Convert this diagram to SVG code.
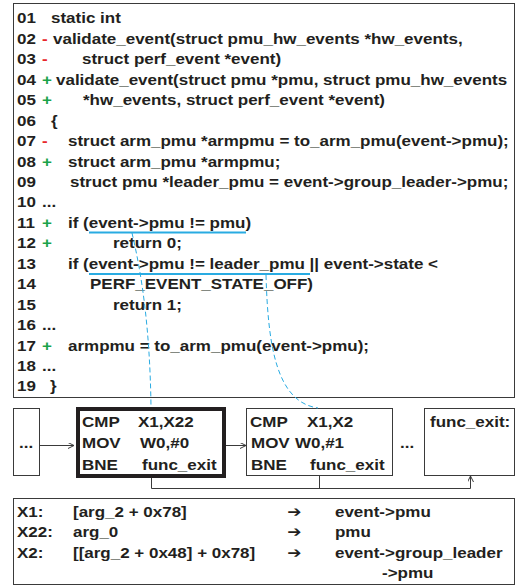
<svg xmlns="http://www.w3.org/2000/svg" width="516" height="585" viewBox="0 0 516 585">
<defs>
<style>
.t{font-family:"Liberation Sans",Arial,sans-serif;font-weight:bold;font-size:15px;fill:#231f20}
.r{fill:#e8262a}
.g{fill:#1aa34a}
.ar{font-family:"DejaVu Sans",sans-serif;font-weight:bold;font-size:15px}
.box{fill:#fff;stroke:#3a3a3a;stroke-width:1}
.thick{fill:#fff;stroke:#231f20;stroke-width:4}
.hl{stroke:#29abe2;stroke-width:2;fill:none}
.dash{stroke:#29abe2;stroke-width:1;fill:none;stroke-dasharray:5 3}
.conn{stroke:#3a3a3a;stroke-width:1;fill:none}
</style>
<marker id="ah" markerWidth="8" markerHeight="8" refX="6" refY="3" orient="auto" markerUnits="userSpaceOnUse">
<path d="M0,0 L6,3 L0,6" fill="none" stroke="#3a3a3a" stroke-width="1"/>
</marker>
</defs>
<rect width="516" height="585" fill="#fff"/>

<g id="code">
<rect class="box" x="13.5" y="3.5" width="501" height="394"/>
<g transform="scale(1.1333 1)" class="t">
<text y="23.4"><tspan x="15">01</tspan><tspan x="45">static int</tspan></text>
<text y="43.85"><tspan x="15">02</tspan><tspan x="37.06" class="r">-</tspan><tspan x="46.76">validate_event(struct pmu_hw_events *hw_events,</tspan></text>
<text y="64.3"><tspan x="15">03</tspan><tspan x="37.06" class="r">-</tspan><tspan x="72.35">struct perf_event *event)</tspan></text>
<text y="84.75"><tspan x="15">04</tspan><tspan x="37.06" class="g">+</tspan><tspan x="49.41">validate_event(struct pmu *pmu, struct pmu_hw_events</tspan></text>
<text y="105.2"><tspan x="15">05</tspan><tspan x="37.06" class="g">+</tspan><tspan x="73.24">*hw_events, struct perf_event *event)</tspan></text>
<text y="125.65"><tspan x="15">06</tspan><tspan x="45">{</tspan></text>
<text y="146.1"><tspan x="15">07</tspan><tspan x="37.06" class="r">-</tspan><tspan x="60">struct arm_pmu *armpmu = to_arm_pmu(event-&gt;pmu);</tspan></text>
<text y="166.55"><tspan x="15">08</tspan><tspan x="37.06" class="g">+</tspan><tspan x="60">struct arm_pmu *armpmu;</tspan></text>
<text y="187"><tspan x="15">09</tspan><tspan x="61.76">struct pmu *leader_pmu = event-&gt;group_leader-&gt;pmu;</tspan></text>
<text y="207.45"><tspan x="15">10</tspan><tspan x="37.06">...</tspan></text>
<text y="227.9"><tspan x="15">11</tspan><tspan x="37.06" class="g">+</tspan><tspan x="60">if (event-&gt;pmu != pmu)</tspan></text>
<text y="248.35"><tspan x="15">12</tspan><tspan x="37.06" class="g">+</tspan><tspan x="99.71">return 0;</tspan></text>
<text y="268.8"><tspan x="15">13</tspan><tspan x="60">if (event-&gt;pmu != leader_pmu || event-&gt;state &lt;</tspan></text>
<text y="289.25"><tspan x="15">14</tspan><tspan x="79.41">PERF_EVENT_STATE_OFF)</tspan></text>
<text y="309.7"><tspan x="15">15</tspan><tspan x="99.71">return 1;</tspan></text>
<text y="330.15"><tspan x="15">16</tspan><tspan x="37.06">...</tspan></text>
<text y="350.6"><tspan x="15">17</tspan><tspan x="37.06" class="g">+</tspan><tspan x="60">armpmu = to_arm_pmu(event-&gt;pmu);</tspan></text>
<text y="371.05"><tspan x="15">18</tspan><tspan x="37.06">...</tspan></text>
<text y="391.5"><tspan x="15">19</tspan><tspan x="44.12">}</tspan></text>
</g>
<line class="hl" x1="89" y1="232.5" x2="246" y2="232.5"/>
<line class="hl" x1="89" y1="274" x2="310" y2="274"/>
</g>

<g id="blk_prev">
<rect class="box" x="13.5" y="408.5" width="26" height="67"/>
<text class="t" transform="scale(1.1333 1)" x="16.76" y="448">...</text>
</g>

<g id="blk_cmp1">
<rect class="thick" x="78" y="409" width="146" height="67"/>
<g class="t" transform="scale(1.1333 1)">
<text y="427"><tspan x="72.35">CMP</tspan><tspan x="121.76">X1,X22</tspan></text>
<text y="448.5"><tspan x="72.35">MOV</tspan><tspan x="123.53">W0,#0</tspan></text>
<text y="470"><tspan x="72.35">BNE</tspan><tspan x="125.29">func_exit</tspan></text>
</g>
</g>

<g id="blk_cmp2">
<rect class="box" x="246.5" y="408.5" width="146" height="67"/>
<g class="t" transform="scale(1.1333 1)">
<text y="427"><tspan x="220.59">CMP</tspan><tspan x="270.88">X1,X2</tspan></text>
<text y="448.5"><tspan x="221.47">MOV</tspan><tspan x="260.29">W0,#1</tspan></text>
<text y="470"><tspan x="221.47">BNE</tspan><tspan x="273.53">func_exit</tspan></text>
</g>
</g>

<g id="blk_dots">
<text class="t" transform="scale(1.1333 1)" x="352.94" y="448">...</text>
</g>

<g id="blk_exit">
<rect class="box" x="424.5" y="408.5" width="90" height="67"/>
<text class="t" transform="scale(1.1333 1)" x="379.41" y="427">func_exit:</text>
</g>

<g id="connectors">
<path class="conn" d="M39.5,445.5 H74" marker-end="url(#ah)"/>
<path class="conn" d="M226,445.5 H246" marker-end="url(#ah)"/>
<path class="conn" d="M151.5,478 V488.5 H470.5 V476" marker-end="url(#ah)"/>
<path class="conn" d="M319.5,475.5 V488.5"/>
<path class="dash" d="M132,233 C142,275 150,330 151,407"/>
<path class="dash" d="M266,275 C268,345 276,402 318,408"/>
</g>

<g id="legend">
<rect class="box" x="13.5" y="498.5" width="501" height="86"/>
<g class="t" transform="scale(1.1333 1)">
<text y="517"><tspan x="15">X1:</tspan><tspan x="64.41">[arg_2 + 0x78]</tspan><tspan x="253.5" class="ar">➔</tspan><tspan x="295.59">event-&gt;pmu</tspan></text>
<text y="537.5"><tspan x="15">X22:</tspan><tspan x="64.41">arg_0</tspan><tspan x="253.5" class="ar">➔</tspan><tspan x="295.59">pmu</tspan></text>
<text y="558"><tspan x="15">X2:</tspan><tspan x="64.41">[[arg_2 + 0x48] + 0x78]</tspan><tspan x="253.5" class="ar">➔</tspan><tspan x="295.59">event-&gt;group_leader</tspan></text>
<text y="578"><tspan x="337.06">-&gt;pmu</tspan></text>
</g>
</g>
</svg>
